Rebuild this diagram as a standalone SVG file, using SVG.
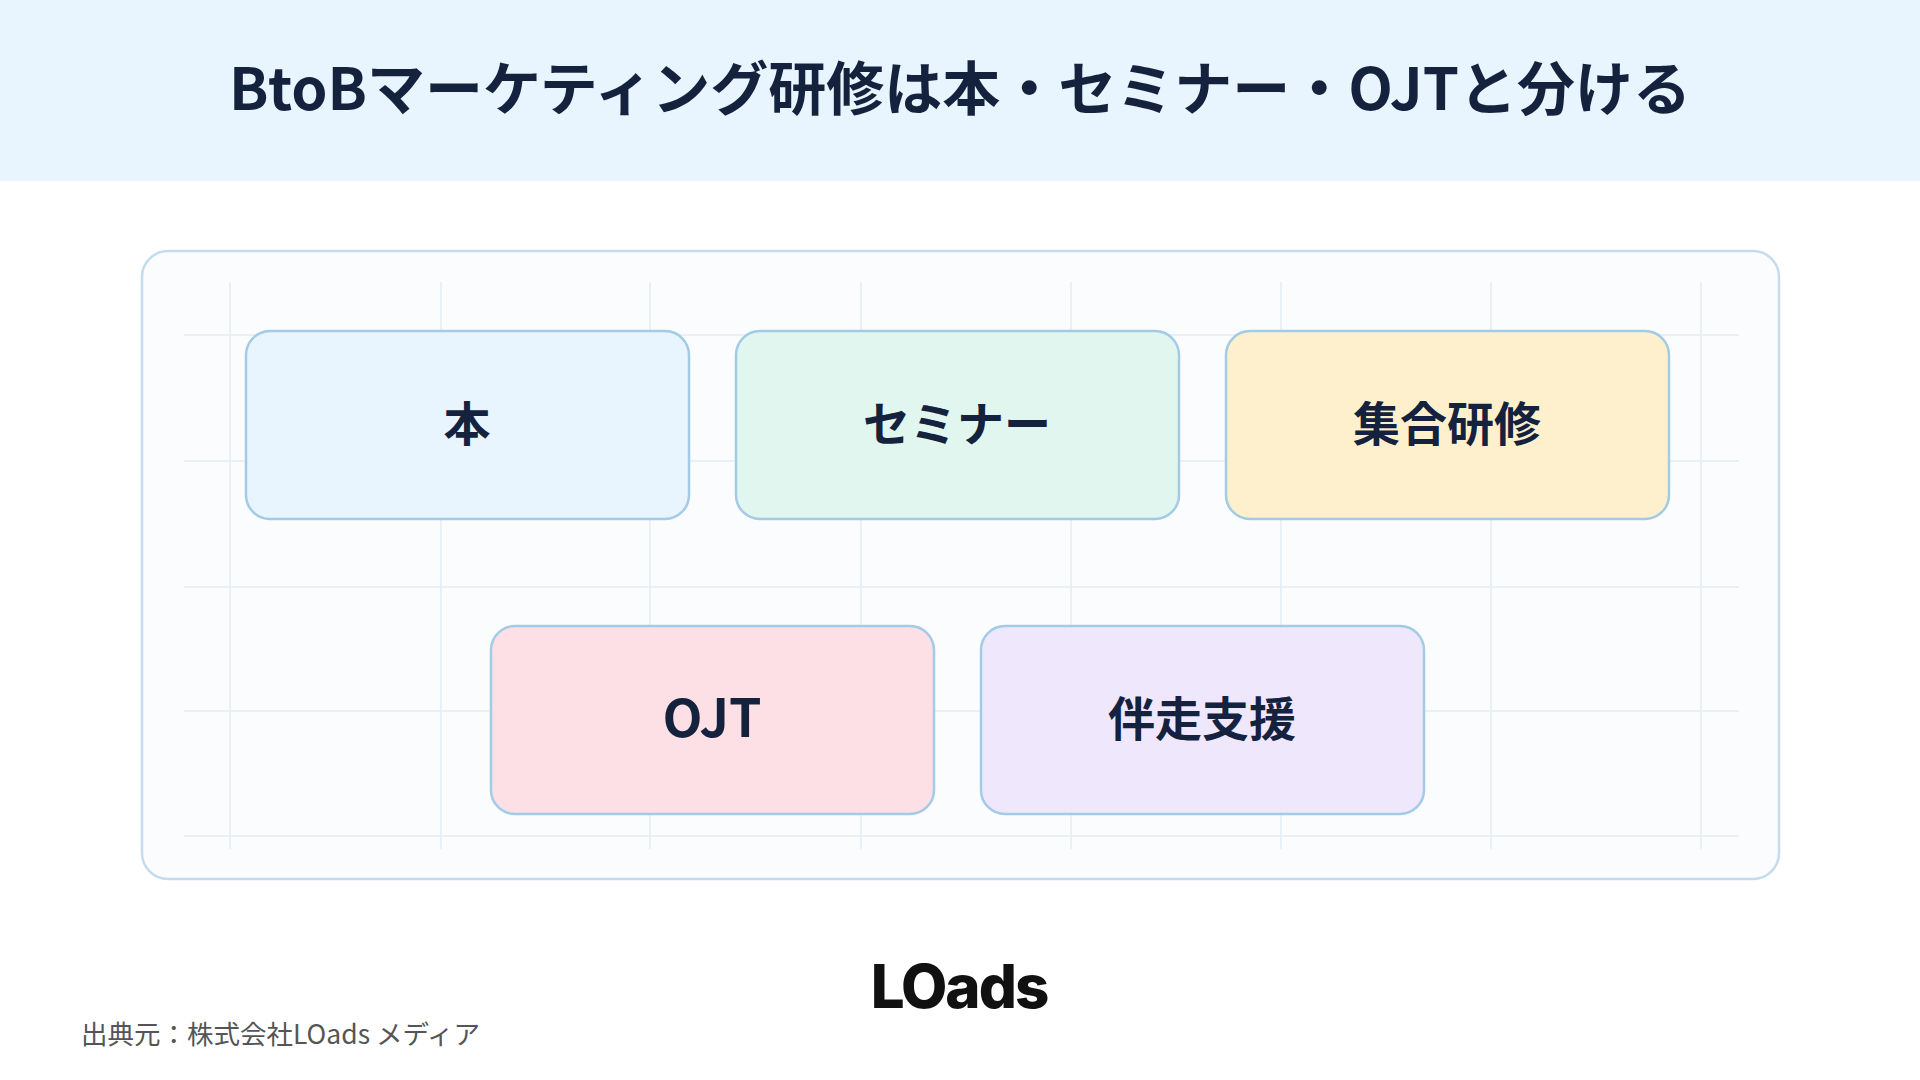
<svg xmlns="http://www.w3.org/2000/svg" width="1920" height="1080" viewBox="0 0 1920 1080">
<style>
.t{font-family:"Noto Sans CJK JP","Noto Sans",sans-serif;font-weight:700;fill:#15223d}
.g{stroke:#e3eef6;stroke-width:1.5}
.b{stroke:#a3cbe6;stroke-width:2.5}
</style>
<rect width="1920" height="1080" fill="#fff"/>
<rect width="1920" height="181" fill="#e8f5fe"/>
<text class="t" x="960" y="110" font-size="58" text-anchor="middle">BtoBマーケティング研修は本・セミナー・OJTと分ける</text>
<rect x="142" y="251" width="1637" height="628" rx="26" fill="#fafcfe" stroke="#c4dced" stroke-width="2.5"/>
<g id="grid" class="g">
<line x1="230" y1="282" x2="230" y2="849"/><line x1="441" y1="282" x2="441" y2="849"/><line x1="650" y1="282" x2="650" y2="849"/><line x1="861" y1="282" x2="861" y2="849"/><line x1="1071" y1="282" x2="1071" y2="849"/><line x1="1281" y1="282" x2="1281" y2="849"/><line x1="1491" y1="282" x2="1491" y2="849"/><line x1="1701" y1="282" x2="1701" y2="849"/>
<line x1="184" y1="335" x2="1739" y2="335"/><line x1="184" y1="461" x2="1739" y2="461"/><line x1="184" y1="587" x2="1739" y2="587"/><line x1="184" y1="711" x2="1739" y2="711"/><line x1="184" y1="836" x2="1739" y2="836"/>
</g>
<g id="connectors"/>
<g id="n1"><rect class="b" x="246" y="331" width="443" height="188" rx="24" fill="#e8f4fe"/><text class="t" x="467" y="441" font-size="47" text-anchor="middle">本</text></g>
<g id="n2"><rect class="b" x="736" y="331" width="443" height="188" rx="24" fill="#e0f6ee"/><text class="t" x="957" y="441" font-size="47" text-anchor="middle">セミナー</text></g>
<g id="n3"><rect class="b" x="1226" y="331" width="443" height="188" rx="24" fill="#fef0cc"/><text class="t" x="1447" y="441" font-size="47" text-anchor="middle">集合研修</text></g>
<g id="n4"><rect class="b" x="491" y="626" width="443" height="188" rx="24" fill="#fde0e5"/><text class="t" x="712" y="737" font-size="52" text-anchor="middle">OJT</text></g>
<g id="n5"><rect class="b" x="981" y="626" width="443" height="188" rx="24" fill="#efe8fd"/><text class="t" x="1202" y="736" font-size="47" text-anchor="middle">伴走支援</text></g>
<text x="959" y="1008" font-family="Inter,'Noto Sans',sans-serif" font-weight="800" font-size="60" fill="#111" text-anchor="middle" letter-spacing="-2">LOads</text>
<text x="81" y="1044" font-family="'Noto Sans CJK JP',sans-serif" font-size="26.5" fill="#555">出典元：株式会社LOads メディア</text>
</svg>
